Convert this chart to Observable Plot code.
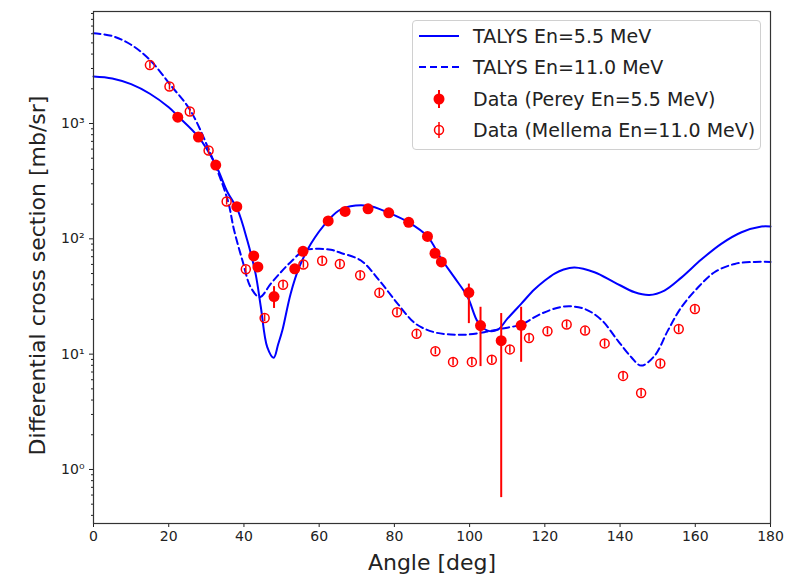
<!DOCTYPE html>
<html><head><meta charset="utf-8">
<script src="https://cdn.jsdelivr.net/npm/d3@7"></script>
<script src="https://cdn.jsdelivr.net/npm/@observablehq/plot@0.6"></script>
<style>
body{margin:0;background:#fff;font-family:"DejaVu Sans",sans-serif;}
#wrap{position:relative;width:785px;height:580px;}
#legend{position:absolute;left:412px;top:20px;width:347px;height:128px;border:1px solid #d0d0d0;border-radius:4px;background:rgba(255,255,255,0.85);font-size:19px;color:#222;}
.row{position:absolute;left:0;height:26px;display:flex;align-items:center;white-space:nowrap;}
.row svg{margin-left:6px;margin-right:14px;}
</style></head>
<body><div id="wrap"></div>
<script>
// TALYS En=5.5 MeV (solid)
const talys55Angle = [0, 5, 10, 15, 20, 22.4, 27.9, 32.5, 35.6, 38.3, 40.9, 43.1, 44.5, 46.2, 47.9, 49.1, 50.2, 52.4, 54.7, 57.8, 62.3, 65.8, 72.9, 78.5, 83.8, 88.8, 92.4, 95.9, 99.5, 102.2, 104.8, 107.5, 110.1, 113.7, 117.2, 120.0, 122.6, 125.0, 127.9, 133.2, 138.5, 143.9, 147.8, 151.8, 156.3, 161.6, 166.9, 172.3, 177.6, 180];
const talys55Value = [2560, 2460, 2193, 1811, 1382, 1161, 764, 437, 255, 179, 96.6, 49.7, 25.5, 11.5, 9.3, 12.2, 16.0, 33.3, 56.7, 90.5, 143, 180, 194, 168, 139, 105, 67.5, 46.5, 31.2, 19.0, 16.0, 16.3, 20.4, 27.3, 36.3, 43.5, 50.0, 54.2, 56.4, 51.3, 42.0, 34.4, 32.6, 35.6, 46.1, 66.1, 90.5, 114, 128, 128];
// TALYS En=11.0 MeV (dashed)
const talys11Angle = [0, 5, 10, 15, 20.4, 25.6, 30.4, 35.6, 37.4, 39.6, 41.8, 44.2, 47.1, 49.8, 52.4, 56.0, 59.6, 63.1, 65.8, 71.1, 76.0, 80.9, 85.7, 90.6, 95.0, 99.5, 103.9, 108.4, 113.7, 119.0, 125.2, 130.5, 135.0, 139.4, 143.0, 145.6, 149.2, 152.7, 156.3, 160.7, 165.1, 170.5, 175.8, 180];
const talys11Value = [6070, 5730, 4820, 3557, 2170, 1322, 622, 221, 118, 64.9, 38.0, 31.2, 40.7, 51.3, 62.7, 79.2, 81.9, 80.3, 75.4, 64.9, 43.5, 27.3, 18.3, 15.5, 14.8, 14.8, 15.5, 16.6, 18.1, 22.4, 25.9, 24.7, 19.9, 13.1, 9.4, 7.96, 9.7, 16.0, 25.5, 37.8, 51.3, 60.6, 63.1, 63.1];
// Data (Perey En=5.5 MeV)
const pereyAngle = [22.4, 27.9, 32.5, 38.1, 42.6, 43.7, 48.0, 53.5, 55.7, 62.4, 66.9, 73.0, 78.5, 83.8, 88.8, 90.8, 92.5, 99.8, 102.9, 108.4, 113.7];
const pereyValue = [1135, 764, 436, 190, 71, 57, 31.6, 55, 78, 143, 173, 182, 168, 139, 105, 75, 63, 34.2, 17.7, 13.1, 17.8];
const pereyLow   = [1080, 726, 414, 180, 67, 54, 24.9, 52, 74, 136, 164, 173, 160, 132, 100, 71, 60, 18.4, 7.8, 0.57, 8.5];
const pereyHigh  = [1190, 802, 458, 200, 75, 60, 38.5, 58, 82, 150, 182, 191, 176, 146, 110, 79, 66, 40.5, 25.5, 22.5, 25.5];
// Data (Mellema En=11.0 MeV)
const mellemaAngle = [15.0, 20.2, 25.6, 30.6, 35.4, 40.5, 45.5, 50.4, 55.8, 60.8, 65.5, 70.9, 76.0, 80.7, 85.9, 90.9, 95.6, 100.6, 105.9, 110.7, 115.8, 120.7, 125.8, 130.7, 135.9, 140.8, 145.6, 150.7, 155.6, 159.9];
const mellemaValue = [3210, 2094, 1270, 583, 211, 54.4, 20.6, 40, 59.8, 64.6, 60.4, 48.3, 34, 23.1, 15.0, 10.6, 8.57, 8.57, 8.93, 11.0, 13.8, 15.8, 18.1, 16.0, 12.4, 6.48, 4.6, 8.3, 16.5, 24.6];
const mellemaLow   = [2990, 1950, 1180, 540, 196, 50.6, 19.2, 37.2, 55.6, 60.1, 56.2, 44.9, 31.6, 21.5, 14.0, 9.9, 7.97, 7.97, 8.3, 10.2, 12.8, 14.7, 16.8, 14.9, 11.5, 6.0, 4.28, 7.7, 15.3, 22.9];
const mellemaHigh  = [3430, 2240, 1360, 624, 226, 58.2, 22.0, 42.8, 64.0, 69.1, 64.6, 51.7, 36.4, 24.7, 16.1, 11.3, 9.17, 9.17, 9.55, 11.8, 14.8, 16.9, 19.4, 17.1, 13.3, 6.93, 4.92, 8.9, 17.7, 26.3];

const xTicks = [0, 20, 40, 60, 80, 100, 120, 140, 160, 180];
const yMajorTicks = [1, 10, 100, 1000];
const yMajorLabels = ["10⁰", "10¹", "10²", "10³"];
const yMinorTicks = [0.4, 0.5, 0.6, 0.7, 0.8, 0.9, 2, 3, 4, 5, 6, 7, 8, 9, 20, 30, 40, 50, 60, 70, 80, 90, 200, 300, 400, 500, 600, 700, 800, 900, 2000, 3000, 4000, 5000, 6000, 7000, 8000, 9000];
const xTitle = "Angle [deg]";
const yTitle = "Differential cross section [mb/sr]";
const legendLabels = ["TALYS En=5.5 MeV", "TALYS En=11.0 MeV", "Data (Perey En=5.5 MeV)", "Data (Mellema En=11.0 MeV)"];

const blue = "#0000ff", red = "#ff0000";
const talys55 = talys55Angle.map((a, i) => ({a, v: talys55Value[i]}));
const talys11 = talys11Angle.map((a, i) => ({a, v: talys11Value[i]}));
const perey = pereyAngle.map((a, i) => ({a, v: pereyValue[i], lo: pereyLow[i], hi: pereyHigh[i]}));
const mellema = mellemaAngle.map((a, i) => ({a, v: mellemaValue[i], lo: mellemaLow[i], hi: mellemaHigh[i]}));

const chart = Plot.plot({
  width: 785, height: 580,
  marginLeft: 93, marginRight: 15, marginTop: 11, marginBottom: 57,
  style: {fontFamily: "DejaVu Sans, sans-serif", fontSize: "14px", color: "#222", background: "white", overflow: "visible"},
  x: {domain: [0, 180]},
  y: {type: "log", domain: [0.34, 9360]},
  marks: [
    Plot.axisX({ticks: xTicks, tickSize: 4, tickPadding: 4, label: null}),
    Plot.axisY({ticks: yMajorTicks, tickSize: 4, tickPadding: 5, tickFormat: d => yMajorLabels[yMajorTicks.indexOf(d)], label: null}),
    Plot.axisY({ticks: yMinorTicks, tickSize: 2, tickFormat: () => "", label: null}),
    Plot.line(talys55, {x: "a", y: "v", stroke: blue, strokeWidth: 2, curve: "catmull-rom"}),
    Plot.line(talys11, {x: "a", y: "v", stroke: blue, strokeWidth: 2, strokeDasharray: "7,4", curve: "catmull-rom"}),
    Plot.ruleX(mellema, {x: "a", y1: "lo", y2: "hi", stroke: red, strokeWidth: 1.5}),
    Plot.dot(mellema, {x: "a", y: "v", r: 4.5, stroke: red, strokeWidth: 1.5, fill: "none"}),
    Plot.ruleX(perey, {x: "a", y1: "lo", y2: "hi", stroke: red, strokeWidth: 2}),
    Plot.dot(perey, {x: "a", y: "v", r: 5.5, fill: red, stroke: "none"}),
    Plot.frame({stroke: "#333", strokeWidth: 1.2}),
    Plot.text([xTitle], {text: d => d, frameAnchor: "bottom", textAnchor: "middle", dy: 46, fontSize: 22}),
    Plot.text([yTitle], {text: d => d, frameAnchor: "left", textAnchor: "middle", rotate: -90, dx: -56, dy: 8, fontSize: 22})
  ]
});
const wrap = document.getElementById("wrap");
wrap.appendChild(chart);

// legend
const leg = document.createElement("div");
leg.id = "legend";
const rowCenters = [15, 46, 78, 109];
legendLabels.forEach((label, i) => {
  const row = document.createElement("div");
  row.className = "row";
  row.style.top = (rowCenters[i] - 13) + "px";
  let sw;
  if (i === 0) sw = `<line x1="0" x2="40" y1="13" y2="13" stroke="${blue}" stroke-width="2"/>`;
  else if (i === 1) sw = `<line x1="0" x2="40" y1="13" y2="13" stroke="${blue}" stroke-width="2" stroke-dasharray="7,4"/>`;
  else if (i === 2) sw = `<line x1="20" x2="20" y1="4" y2="22" stroke="${red}" stroke-width="2"/><circle cx="20" cy="13" r="5.5" fill="${red}"/>`;
  else sw = `<line x1="20" x2="20" y1="5" y2="21" stroke="${red}" stroke-width="1.5"/><circle cx="20" cy="13" r="4.5" fill="none" stroke="${red}" stroke-width="1.5"/>`;
  row.innerHTML = `<svg width="40" height="26">${sw}</svg><span>${label}</span>`;
  leg.appendChild(row);
});
wrap.appendChild(leg);
</script>
</body></html>
